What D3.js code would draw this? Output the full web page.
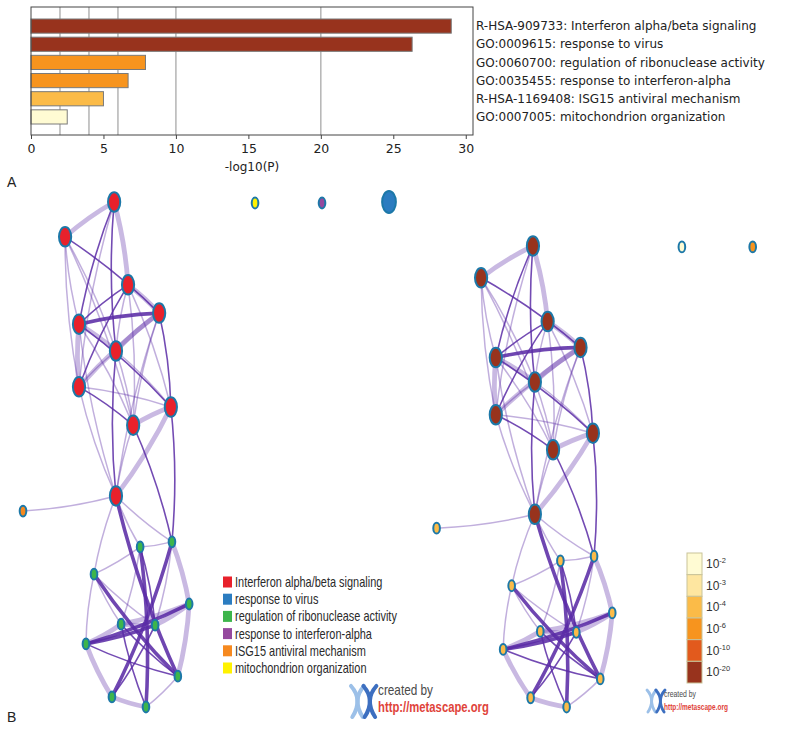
<!DOCTYPE html>
<html><head><meta charset="utf-8">
<script src="https://cdn.jsdelivr.net/npm/d3@7/dist/d3.min.js"></script>
<style>body{margin:0;background:#fff}svg{display:block}</style>
</head><body>
<svg id="c" width="800" height="730"></svg>
<script>
// ---------- data ----------
const terms = [
  "R-HSA-909733: Interferon alpha/beta signaling",
  "GO:0009615: response to virus",
  "GO:0060700: regulation of ribonuclease activity",
  "GO:0035455: response to interferon-alpha",
  "R-HSA-1169408: ISG15 antiviral mechanism",
  "GO:0007005: mitochondrion organization"
];
const logP = [29.0, 26.3, 7.9, 6.7, 5.0, 2.5];
const xTicks = [0, 5, 10, 15, 20, 25, 30];
const gridValues = [2, 4, 6, 10, 20];
const axisTitle = "-log10(P)";

const clusterNames = [
  "Interferon alpha/beta signaling",
  "response to virus",
  "regulation of ribonuclease activity",
  "response to interferon-alpha",
  "ISG15 antiviral mechanism",
  "mitochondrion organization"
];
const clusterColors = ["#e8212b", "#2b7cc0", "#3db54b", "#95499e", "#f6891f", "#fff200"];

const pBinLabels = ["-2", "-3", "-4", "-6", "-10", "-20"];
const pThresholds = [3, 4, 6, 10, 20];
const pColors = ["#fffbd3", "#fee6a0", "#fbbb48", "#f7941e", "#e25a1d", "#98331d"];

// network layout (abstract layout units 0..100)
const nodeU = [24.9, 11.5, 28.7, 37.2, 15.3, 25.4, 15.3, 40.4, 30.1, 25.4, 0,
               32.0, 40.7, 19.4, 45.4, 26.8, 36.1, 17.2, 42.3, 24.3, 33.6,
               63.4, 81.7, 100];
const nodeV = [0, 6.9, 16.4, 22.0, 24.2, 29.5, 36.6, 40.6, 44.2, 58.2, 61.2,
               68.3, 67.3, 73.7, 79.6, 83.6, 83.8, 87.5, 93.9, 98.0, 100,
               0.2, 0.2, 0];
const nodeCluster = [0,0,0,0,0,0,0,0,0,0,4, 2,2,2,2,2,2,2,2,2,2, 5,3,1];
const nodeGenes = [12,12,12,12,12,12,12,12,12,12,4, 4,4,4,4,4,4,4,4,4,4, 4,4,15];
const nodeLogP = [25,25,25,25,25,25,25,25,25,25,5, 5,5,5,5,5,5,5,5,5,5, 2.5,6.7,26.3];

// edges: [source, target, kind]  kind 0 thin faint, 1 thin dark, 2 thick faint, 3 thick dark
const edges = [
  [0,1,2],[0,2,2],[0,5,1],[0,4,1],[0,6,0],
  [1,3,1],[1,4,0],[1,6,0],[1,5,0],[1,8,0],
  [2,3,2],[2,4,1],[2,6,1],[2,5,0],[2,8,0],[2,7,0],
  [3,4,3],[3,5,2],[3,6,2],[3,8,0],[3,7,1],[3,9,0],
  [4,5,2],[4,6,2],[4,7,1],[4,8,0],[4,9,0],
  [5,6,0],[5,7,0],[5,8,0],[5,9,1],
  [6,8,1],[6,7,0],[6,9,0],
  [7,8,2],[7,9,2],[7,12,1],
  [8,9,0],[8,12,1],
  [9,10,0],
  [9,11,0],[9,12,0],[9,13,0],[9,18,3],
  [11,20,3],[12,19,3],[13,18,3],[17,14,3],[17,16,3],[15,14,2],[15,16,2],[17,15,2],
  [13,17,0],[13,15,0],[13,11,0],[11,12,0],[12,14,2],[14,18,2],[18,20,0],[19,20,2],
  [17,19,2],[13,16,0],[11,16,1],[12,16,0],[15,18,1],[16,19,1],[15,20,1],[11,15,0],
  [14,16,2],[17,18,1]
];

// ---------- drawing ----------
const svg = d3.select("#c");
const FONT_MPL = "'DejaVu Sans', sans-serif";
const FONT_SANS = "'Liberation Sans', Arial, sans-serif";
const pColor = d3.scaleThreshold().domain(pThresholds).range(pColors);

// Panel A: bar chart
const x = d3.scaleLinear().domain([0, 30.5]).range([31, 473]);
const y = d3.scaleBand().domain(terms).range([17, 126]).paddingInner(0.22).paddingOuter(0.11);
const gA = svg.append("g");

gA.selectAll("line.grid").data(gridValues).join("line")
  .attr("x1", d => x(d)).attr("x2", d => x(d))
  .attr("y1", 7).attr("y2", 135)
  .attr("stroke", "#a8a8a8").attr("stroke-width", 1.3);

gA.selectAll("rect.bar").data(terms).join("rect")
  .attr("x", x(0)).attr("y", d => y(d))
  .attr("width", (d, i) => x(logP[i]) - x(0))
  .attr("height", y.bandwidth())
  .attr("fill", (d, i) => pColor(logP[i]))
  .attr("stroke", "#7a7a7a").attr("stroke-width", 1);

gA.append("rect").attr("x", 31).attr("y", 7).attr("width", 442).attr("height", 128)
  .attr("fill", "none").attr("stroke", "#444").attr("stroke-width", 1);

const ax = gA.append("g").attr("transform", "translate(0,135)")
  .call(d3.axisBottom(x).tickValues(xTicks).tickSize(4).tickSizeOuter(0).tickPadding(5));
ax.select(".domain").remove();
ax.selectAll("line").attr("stroke", "#444");
ax.selectAll("text").attr("font-family", FONT_MPL).attr("font-size", 12.5).attr("fill", "#222");

gA.append("text").attr("x", 252).attr("y", 171).attr("text-anchor", "middle")
  .attr("font-family", FONT_MPL).attr("font-size", 12).attr("fill", "#222").text(axisTitle);

gA.selectAll("text.term").data(terms).join("text")
  .attr("x", 476).attr("y", d => y(d) + y.bandwidth() / 2)
  .attr("dy", "0.35em")
  .attr("font-family", FONT_MPL).attr("font-size", 12).attr("fill", "#222")
  .text(d => d);

// panel letters
svg.append("text").attr("x", 7).attr("y", 187).attr("font-family", FONT_SANS)
  .attr("font-size", 14).attr("fill", "#222").text("A");
svg.append("text").attr("x", 7).attr("y", 722).attr("font-family", FONT_SANS)
  .attr("font-size", 14).attr("fill", "#222").text("B");

// Panel B networks
const edgeStyle = [
  {w: 1.5, o: 0.38},
  {w: 1.6, o: 0.85},
  {w: 4.8, o: 0.33},
  {w: 3.6, o: 0.88}
];
const rScale = d3.scaleSqrt().domain([0, 12]).range([0, 6.6]);

function drawNetwork(sx, sy, fillFn) {
  const g = svg.append("g");
  const cx = d3.mean(nodeU.slice(0, 21), d => sx(d));
  const cy = d3.mean(nodeV.slice(0, 21), d => sy(d));
  g.selectAll("path.edge").data(edges).join("path")
    .attr("fill", "none")
    .attr("stroke", "#5b2ca6")
    .attr("stroke-linecap", "round")
    .attr("stroke-width", d => edgeStyle[d[2]].w)
    .attr("stroke-opacity", d => edgeStyle[d[2]].o)
    .attr("d", d => {
      const x1 = sx(nodeU[d[0]]), y1 = sy(nodeV[d[0]]);
      const x2 = sx(nodeU[d[1]]), y2 = sy(nodeV[d[1]]);
      const mx = (x1 + x2) / 2, my = (y1 + y2) / 2;
      const dx = x2 - x1, dy = y2 - y1;
      const len = Math.hypot(dx, dy) || 1;
      let px = -dy / len, py = dx / len;
      if (px * (mx - cx) + py * (my - cy) < 0) { px = -px; py = -py; }
      const k = 0.05 * len;
      return `M${x1},${y1}Q${mx + px * k},${my + py * k} ${x2},${y2}`;
    });
  g.selectAll("ellipse.node").data(nodeU).join("ellipse")
    .attr("cx", d => sx(d))
    .attr("cy", (d, i) => sy(nodeV[i]))
    .attr("rx", (d, i) => rScale(nodeGenes[i]) - 0.5)
    .attr("ry", (d, i) => rScale(nodeGenes[i]) * 1.55 - 0.5)
    .attr("fill", (d, i) => fillFn(i))
    .attr("stroke", "#1c78a8")
    .attr("stroke-width", 2);
  return g;
}

drawNetwork(
  d3.scaleLinear().domain([0, 100]).range([23, 389]),
  d3.scaleLinear().domain([0, 100]).range([202, 707]),
  i => clusterColors[nodeCluster[i]]
);
drawNetwork(
  d3.scaleLinear().domain([0, 100]).range([436.6, 823.5]),
  d3.scaleLinear().domain([0, 100]).range([246, 707]),
  i => pColor(nodeLogP[i])
);

// cluster legend
const ly = d3.scalePoint().domain(clusterNames).range([582, 668]);
const gL = svg.append("g");
gL.selectAll("rect").data(clusterNames).join("rect")
  .attr("x", 223).attr("y", d => ly(d) - 5.5).attr("width", 9).attr("height", 11)
  .attr("fill", (d, i) => clusterColors[i]);
const lt = gL.selectAll("text").data(clusterNames).join("text")
  .attr("font-family", FONT_SANS).attr("font-size", 14).attr("fill", "#2a2a2a")
  .attr("dy", "0.35em").text(d => d);
const maxW = d3.max(lt.nodes(), n => n.getComputedTextLength());
const sxL = 162 / maxW;
lt.attr("transform", d => `translate(235,${ly(d)}) scale(${sxL},1)`);

// p-value color legend
const cb = d3.scaleBand().domain(pBinLabels).range([553, 683]);
const gC = svg.append("g");
gC.selectAll("rect").data(pBinLabels).join("rect")
  .attr("x", 687).attr("y", d => cb(d)).attr("width", 15).attr("height", cb.bandwidth())
  .attr("fill", (d, i) => pColors[i]).attr("stroke", "#c9c49a").attr("stroke-width", 1);
const ct = gC.selectAll("text").data(pBinLabels).join("text")
  .attr("x", 706).attr("y", d => cb(d) + cb.bandwidth() / 2 + 4)
  .attr("font-family", FONT_SANS).attr("font-size", 12).attr("fill", "#333");
ct.append("tspan").text("10");
ct.append("tspan").attr("font-size", 7.5).attr("dy", -5).text(d => d);

// metascape logos
function logo(x0, y0, h, fs1, fs2) {
  const g = svg.append("g");
  const w = h * 0.42;
  [["#9cc0e8", x0], ["#3d6fc0", x0 + w * 0.95]].forEach(([c, xx]) => {
    g.append("path").attr("fill", "none").attr("stroke", c).attr("stroke-width", h * 0.13)
      .attr("stroke-linecap", "round")
      .attr("d", `M${xx},${y0} Q${xx + w * 0.95},${y0 + h * 0.45} ${xx + w * 0.1},${y0 + h}`);
    g.append("path").attr("fill", "none").attr("stroke", c).attr("stroke-width", h * 0.13)
      .attr("stroke-linecap", "round")
      .attr("d", `M${xx + w},${y0} Q${xx + w * 0.05},${y0 + h * 0.45} ${xx + w * 0.9},${y0 + h}`);
  });
  const t1 = g.append("text").attr("font-family", FONT_SANS).attr("font-size", fs1)
    .attr("fill", "#4a4a4a").text("created by");
  const t2 = g.append("text").attr("font-family", FONT_SANS).attr("font-size", fs2)
    .attr("font-weight", "bold").attr("fill", "#e0433a").text("http://metascape.org");
  return {t1, t2};
}
const L1 = logo(351, 686, 31, 14, 14);
let s1 = 55 / L1.t1.node().getComputedTextLength(), s2 = 111 / L1.t2.node().getComputedTextLength();
L1.t1.attr("transform", `translate(378,695) scale(${s1},1)`);
L1.t2.attr("transform", `translate(378,712) scale(${s2},1)`);
const L2 = logo(647, 690, 22, 9, 9);
s1 = 32 / L2.t1.node().getComputedTextLength(); s2 = 64 / L2.t2.node().getComputedTextLength();
L2.t1.attr("transform", `translate(664,697) scale(${s1},1)`);
L2.t2.attr("transform", `translate(664,710) scale(${s2},1)`);
</script>
</body></html>
